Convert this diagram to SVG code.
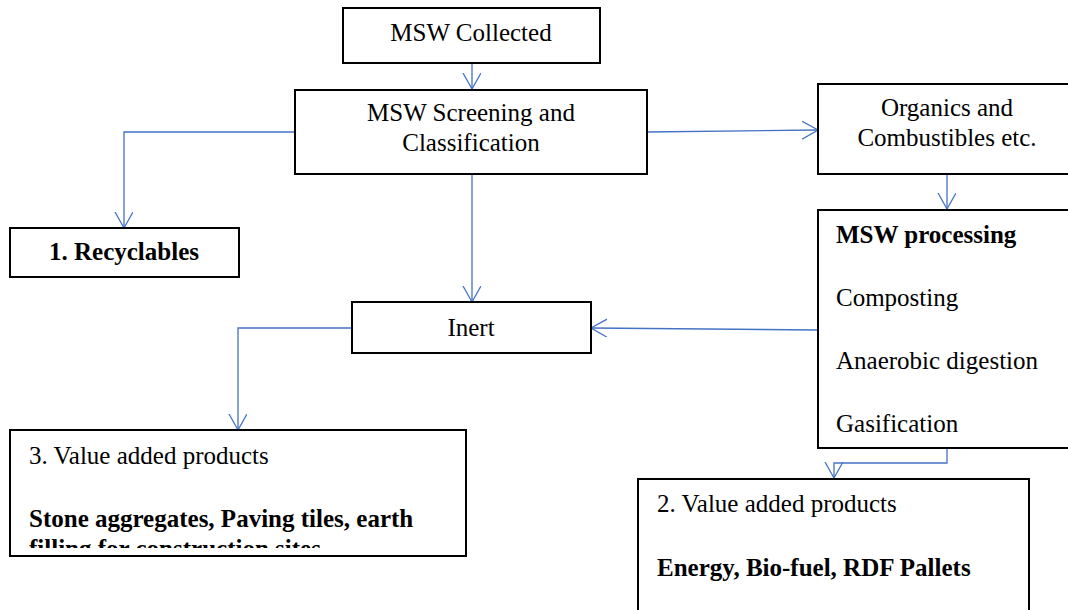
<svg xmlns="http://www.w3.org/2000/svg" width="1068" height="610" viewBox="0 0 1068 610">
<style>
.box{fill:#fff;stroke:#000;stroke-width:2}
.t{font-family:"Liberation Serif","Times New Roman",serif;font-size:25px;fill:#000}
.b{font-weight:bold}
.c{text-anchor:middle}
.con{fill:none;stroke:#4472C4;stroke-width:1.3}
</style>
<defs>
<marker id="ah" markerWidth="20" markerHeight="22" refX="16" refY="9" orient="auto" markerUnits="userSpaceOnUse">
<path d="M0,0 L16,9 L0,18" fill="none" stroke="#4472C4" stroke-width="1.3"/>
</marker>
<clipPath id="clip3"><rect x="10" y="430" width="456" height="118"/></clipPath>
</defs>
<g id="connectors">
<path class="con" d="M472,63 V89" marker-end="url(#ah)"/>
<path class="con" d="M295,132 H124 V228" marker-end="url(#ah)"/>
<path class="con" d="M647,132 L818,130" marker-end="url(#ah)"/>
<path class="con" d="M947,174 V209" marker-end="url(#ah)"/>
<path class="con" d="M472,174 V302" marker-end="url(#ah)"/>
<path class="con" d="M818,330 L591,328" marker-end="url(#ah)"/>
<path class="con" d="M352,328 H238 V430" marker-end="url(#ah)"/>
<path class="con" d="M947,449 V463 H834 V478" marker-end="url(#ah)"/>
</g>
<g id="msw-collected">
<rect class="box" x="343" y="8" width="257" height="55"/>
<text class="t c" x="471" y="41">MSW Collected</text>
</g>
<g id="screening">
<rect class="box" x="295" y="90" width="352" height="84"/>
<text class="t c" x="471" y="121">MSW Screening and</text>
<text class="t c" x="471" y="151">Classification</text>
</g>
<g id="organics">
<rect class="box" x="818" y="84" width="260" height="90"/>
<text class="t c" x="947" y="116">Organics and</text>
<text class="t c" x="947" y="146">Combustibles etc.</text>
</g>
<g id="recyclables">
<rect class="box" x="10" y="228" width="229" height="49"/>
<text class="t b c" x="124" y="260">1. Recyclables</text>
</g>
<g id="processing">
<rect class="box" x="818" y="210" width="260" height="238"/>
<text class="t b" x="836" y="243">MSW processing</text>
<text class="t" x="836" y="306">Composting</text>
<text class="t" x="836" y="369">Anaerobic digestion</text>
<text class="t" x="836" y="432">Gasification</text>
</g>
<g id="inert">
<rect class="box" x="352" y="302" width="239" height="51"/>
<text class="t c" x="471" y="336">Inert</text>
</g>
<g id="value3">
<rect class="box" x="10" y="430" width="456" height="126"/>
<text class="t" x="29" y="464">3. Value added products</text>
<g clip-path="url(#clip3)">
<text class="t b" x="29" y="527">Stone aggregates, Paving tiles, earth</text>
<text class="t b" x="29" y="557">filling for construction sites</text>
</g>
</g>
<g id="value2">
<rect class="box" x="638" y="479" width="391" height="140"/>
<text class="t" x="657" y="512">2. Value added products</text>
<text class="t b" x="657" y="576">Energy, Bio-fuel, RDF Pallets</text>
</g>
</svg>
